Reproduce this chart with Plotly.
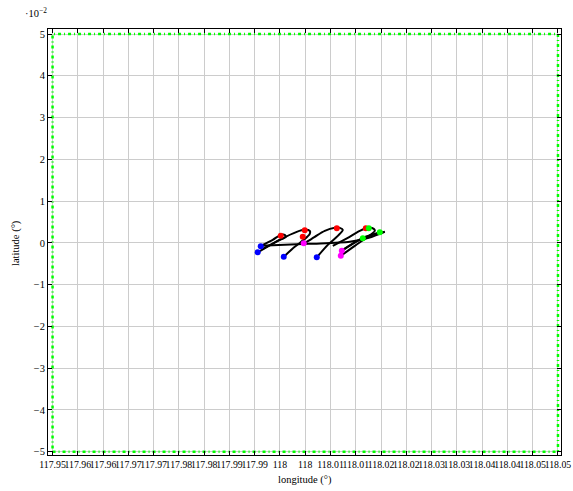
import plotly.graph_objects as go

# ---- axis ticks ----
x_tickvals = [117.95 + 0.005 * i for i in range(21)]
x_ticktext = ["117.95", "117.96", "117.96", "117.97", "117.97", "117.98", "117.98",
              "117.99", "117.99", "118", "118", "118.01", "118.01", "118.02", "118.02",
              "118.03", "118.03", "118.04", "118.04", "118.05", "118.05"]
y_tickvals = [-0.05, -0.04, -0.03, -0.02, -0.01, 0.0, 0.01, 0.02, 0.03, 0.04, 0.05]
y_ticktext = ["\u22125", "\u22124", "\u22123", "\u22122", "\u22121", "0", "1", "2", "3", "4", "5"]

# ---- boundary box ----
box_lon = [117.95, 118.05, 118.05, 117.95, 117.95]
box_lat = [-0.05, -0.05, 0.05, 0.05, -0.05]

# ---- trajectories (lon, lat) ----
traj_long_lon = [117.99119, 118.00069, 118.00881, 118.01257, 118.01574]
traj_long_lat = [-0.00072, -0.00024, 0.00024, 0.0012, 0.00263]

loopA_lon = [117.99119, 117.99357, 117.99515, 117.99594, 117.99614, 117.99455, 117.99159]
loopA_lat = [-0.00072, 0.00072, 0.00191, 0.00191, 0.00144, 0.00048, -0.00144]

loopB_lon = [117.99059, 117.99495, 117.99832, 117.9999, 118.00089, 118.00089, 117.9997, 117.99792, 117.99574]
loopB_lat = [-0.00227, 0.00072, 0.00263, 0.00311, 0.00287, 0.00215, 0.00072, -0.00096, -0.00335]

loopC_lon = [117.9997, 118.00188, 118.00386, 118.00584, 118.00683, 118.00743, 118.00644, 118.00446, 118.00228]
loopC_lat = [-0.00024, 0.00144, 0.00287, 0.00359, 0.00359, 0.00311, 0.00167, -0.00048, -0.00347]

loopD_lon = [118.00545, 118.00842, 118.01079, 118.01257, 118.01356, 118.01376, 118.01238, 118.0098, 118.00703]
loopD_lat = [-0.00072, 0.00120, 0.00287, 0.00359, 0.00335, 0.00287, 0.00144, -0.00072, -0.00311]

extra1_lon = [118.00723, 118.01079, 118.01475]
extra1_lat = [-0.00191, 0.00072, 0.00255]
extra2_lon = [118.00743, 118.01139, 118.01574]
extra2_lat = [-0.00167, 0.0012, 0.00263]

# ---- markers ----
blue_lon = [117.99059, 117.99119, 117.99574, 118.00228]
blue_lat = [-0.00227, -0.00084, -0.00335, -0.00347]
red_lon = [117.99515, 117.9999, 118.00624, 118.01198, 117.99950]
red_lat = [0.00167, 0.00299, 0.00347, 0.00347, 0.00144]
magenta_lon = [117.9997, 118.00723, 118.00703]
magenta_lat = [-0.00012, -0.00191, -0.00311]
green_lon = [118.01257, 118.01475, 118.01139]
green_lat = [0.00347, 0.00251, 0.00108]

fig = go.Figure()

fig.add_trace(go.Scatter(x=box_lon, y=box_lat, mode="lines",
                         line=dict(color="#00ff00", width=2.5, dash="3px,3px,1px,3px"),
                         hoverinfo="skip"))

for lx, ly in [(traj_long_lon, traj_long_lat), (loopA_lon, loopA_lat), (loopB_lon, loopB_lat),
               (loopC_lon, loopC_lat), (loopD_lon, loopD_lat), (extra1_lon, extra1_lat),
               (extra2_lon, extra2_lat)]:
    fig.add_trace(go.Scatter(x=lx, y=ly, mode="lines",
                             line=dict(color="black", width=2, shape="spline", smoothing=0.8)))

for mx, my, col in [(blue_lon, blue_lat, "#0000ff"), (red_lon, red_lat, "#ff0000"),
                    (magenta_lon, magenta_lat, "#ff00ff"), (green_lon, green_lat, "#00ff00")]:
    fig.add_trace(go.Scatter(x=mx, y=my, mode="markers",
                             marker=dict(color=col, size=6, line=dict(width=0))))

font = dict(family="Liberation Serif, DejaVu Serif, serif", size=10.5, color="black")

fig.update_layout(
    width=573, height=491,
    margin=dict(l=48, r=12, t=29, b=36),
    paper_bgcolor="white", plot_bgcolor="white",
    showlegend=False,
    font=font,
    xaxis=dict(range=[117.9491, 118.0506], tickvals=x_tickvals, ticktext=x_ticktext,
               tickangle=0, automargin=False,
               ticks="inside", ticklen=4, tickcolor="black", showline=True, linecolor="black",
               linewidth=1, mirror="ticks", showgrid=True, gridcolor="#cccccc", gridwidth=1,
               zeroline=False, tickfont=dict(size=9.8)),
    yaxis=dict(range=[-0.0508, 0.0512], tickvals=y_tickvals, ticktext=y_ticktext,
               automargin=False,
               ticks="inside", ticklen=4, tickcolor="black", showline=True, linecolor="black",
               linewidth=1, mirror="ticks", showgrid=True, gridcolor="#cccccc", gridwidth=1,
               zeroline=False, tickfont=dict(size=10.5)),
    annotations=[
        dict(text="\u00b710<sup>\u22122</sup>", xref="paper", yref="paper",
             x=-0.0234, y=1.038, xanchor="center", yanchor="middle",
             showarrow=False, font=dict(size=10.5)),
        dict(text="longitude (°)", xref="paper", yref="paper",
             x=0.501, y=-0.0587, xanchor="center", yanchor="middle",
             showarrow=False, font=dict(size=10.5)),
        dict(text="latitude (°)", xref="paper", yref="paper", textangle=-90,
             x=-0.0624, y=0.4977, xanchor="center", yanchor="middle",
             showarrow=False, font=dict(size=10.5)),
    ],
)

fig.write_html("out.html",
               config={"displayModeBar": False},
               post_script="document.body.style.margin='0';document.body.style.overflow='hidden';")
